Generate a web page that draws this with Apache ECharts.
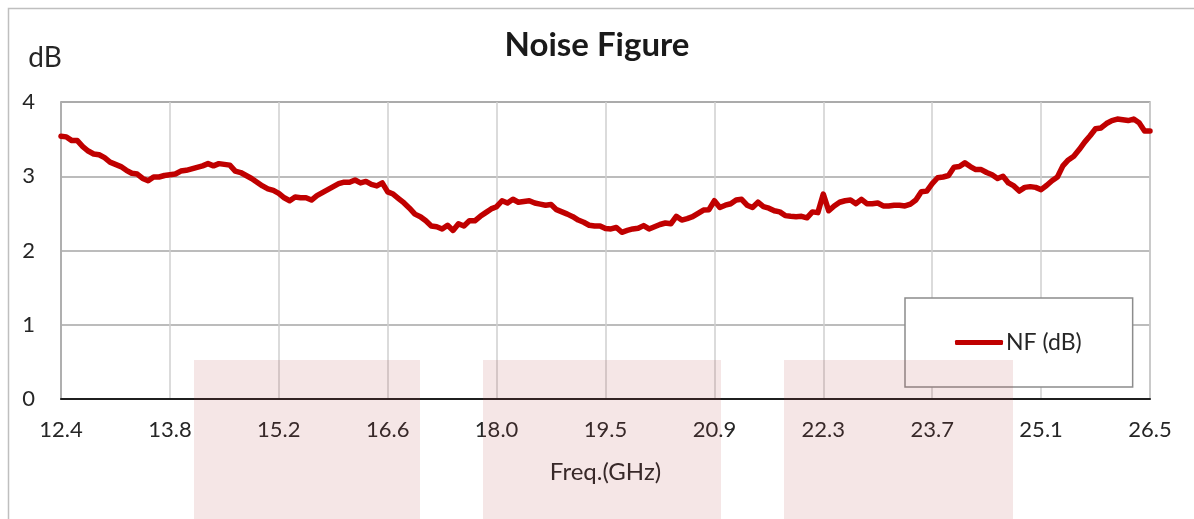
<!DOCTYPE html>
<html>
<head>
<meta charset="utf-8">
<script src="https://cdn.jsdelivr.net/npm/echarts@6/dist/echarts.min.js"></script>
<style>
  html, body { margin: 0; padding: 0; background: #ffffff; }
  #chart { width: 1194px; height: 519px; }
</style>
</head>
<body>
<div id="chart"></div>
<script>
// ---- Data ----
const freqStart = 12.4;   // GHz
const freqStop = 26.5;    // GHz
const pointCount = 201;
const xTickLabels = ['12.4', '13.8', '15.2', '16.6', '18.0', '19.5', '20.9', '22.3', '23.7', '25.1', '26.5'];
const yTickValues = [0, 1, 2, 3, 4];
const seriesName = 'NF (dB)';
const nfValues = [
  3.54, 3.53, 3.48, 3.48, 3.40, 3.34, 3.30, 3.29, 3.25, 3.19,
  3.16, 3.13, 3.08, 3.04, 3.03, 2.97, 2.94, 2.99, 2.99, 3.01,
  3.02, 3.03, 3.07, 3.08, 3.10, 3.12, 3.14, 3.17, 3.14, 3.17,
  3.16, 3.15, 3.07, 3.05, 3.01, 2.97, 2.92, 2.87, 2.83, 2.81,
  2.77, 2.71, 2.67, 2.72, 2.71, 2.71, 2.68, 2.74, 2.78, 2.82,
  2.86, 2.90, 2.92, 2.92, 2.95, 2.91, 2.93, 2.89, 2.87, 2.91,
  2.79, 2.76, 2.70, 2.64, 2.57, 2.49, 2.455, 2.40, 2.33, 2.32,
  2.29, 2.34, 2.27, 2.36, 2.33, 2.40, 2.40, 2.46, 2.51, 2.56,
  2.59, 2.67, 2.64, 2.69, 2.65, 2.66, 2.67, 2.64, 2.625, 2.61,
  2.62, 2.55, 2.52, 2.49, 2.455, 2.41, 2.38, 2.34, 2.33, 2.33,
  2.295, 2.29, 2.31, 2.245, 2.27, 2.29, 2.30, 2.335, 2.29, 2.32,
  2.35, 2.37, 2.36, 2.46, 2.41, 2.43, 2.455, 2.50, 2.545, 2.55,
  2.67, 2.58, 2.61, 2.63, 2.68, 2.69, 2.61, 2.58, 2.65, 2.59,
  2.57, 2.535, 2.52, 2.47, 2.46, 2.455, 2.46, 2.44, 2.52, 2.51,
  2.76, 2.535, 2.60, 2.65, 2.67, 2.68, 2.63, 2.69, 2.63, 2.63,
  2.64, 2.60, 2.60, 2.61, 2.61, 2.60, 2.625, 2.68, 2.79, 2.80,
  2.90, 2.98, 2.99, 3.01, 3.12, 3.13, 3.18, 3.13, 3.09, 3.09,
  3.05, 3.02, 2.97, 3.00, 2.91, 2.87, 2.80, 2.85, 2.86, 2.85,
  2.82, 2.875, 2.94, 2.99, 3.14, 3.22, 3.27, 3.36, 3.46, 3.545,
  3.64, 3.65, 3.71, 3.75, 3.77, 3.76, 3.75, 3.77, 3.72, 3.61,
  3.61
];
const freqCategories = [];
for (let i = 0; i < pointCount; i++) {
  freqCategories.push((freqStart + i * (freqStop - freqStart) / (pointCount - 1)).toFixed(3));
}
const labelEvery = (pointCount - 1) / (xTickLabels.length - 1);

// ---- Chart ----
const FONT = 'Lato, "Open Sans", sans-serif';
const chart = echarts.init(document.getElementById('chart'), null, { renderer: 'canvas' });
const pink = 'rgba(180, 60, 60, 0.13)';

chart.setOption({
  backgroundColor: '#ffffff',
  animation: false,
  title: {
    text: 'Noise Figure',
    left: 'center',
    top: 29,
    padding: [0, 0, 0, 22],
    textStyle: { fontFamily: FONT, fontSize: 33, fontWeight: 'bold', color: '#1a1a1a' }
  },
  grid: {
    left: 61, right: 44, top: 102, bottom: 120,
    show: true, borderColor: '#a6a6a6', borderWidth: 1.5, backgroundColor: 'transparent'
  },
  legend: {
    show: true,
    left: 905, top: 298,
    orient: 'horizontal',
    padding: [33, 51, 33, 50],
    backgroundColor: '#ffffff',
    borderColor: '#8c8c8c',
    borderWidth: 1.5,
    icon: 'roundRect',
    itemWidth: 48,
    itemHeight: 5,
    itemGap: 4,
    textStyle: { fontFamily: FONT, fontSize: 23, color: '#262626', padding: [0, 0, 0, -2] },
    data: [seriesName]
  },
  xAxis: {
    type: 'category',
    data: freqCategories,
    boundaryGap: false,
    name: 'Freq.(GHz)',
    nameLocation: 'middle',
    nameGap: 61,
    nameTextStyle: { fontFamily: FONT, fontSize: 24, color: '#262626' },
    axisLine: { show: true, lineStyle: { color: '#1f1f1f', width: 2 } },
    axisTick: { show: false },
    axisLabel: {
      interval: labelEvery - 1,
      margin: 20,
      fontFamily: FONT, fontSize: 22, color: '#262626',
      formatter: function (v, idx) { return xTickLabels[Math.round(idx / labelEvery)]; }
    },
    splitLine: { show: true, interval: labelEvery - 1, lineStyle: { color: '#cfcfcf', width: 1.5 } }
  },
  yAxis: {
    type: 'value',
    min: yTickValues[0],
    max: yTickValues[yTickValues.length - 1],
    interval: 1,
    name: 'dB',
    nameLocation: 'end',
    nameGap: 30,
    nameTextStyle: { fontFamily: FONT, fontSize: 28, color: '#262626', align: 'center', padding: [0, 0, 0, -32] },
    axisLine: { show: true, lineStyle: { color: '#a6a6a6', width: 1.5 } },
    axisTick: { show: false },
    axisLabel: { margin: 26, fontFamily: FONT, fontSize: 22, color: '#262626' },
    splitLine: { show: true, lineStyle: { color: '#a6a6a6', width: 1.5 } }
  },
  series: [{
    name: seriesName,
    type: 'line',
    data: nfValues,
    symbol: 'none',
    smooth: false,
    lineStyle: { color: '#c00000', width: 5.5, cap: 'round', join: 'round' },
    itemStyle: { color: '#c00000' },
    z: 3
  }],
  graphic: [
    { type: 'rect', left: 6, top: 6, z: -10, silent: true,
      shape: { width: 1200, height: 512 },
      style: { fill: 'none', stroke: '#bfbfbf', lineWidth: 1.5 } },
    { type: 'rect', left: 194, top: 360, zlevel: 1, silent: true,
      shape: { width: 226, height: 160 }, style: { fill: pink } },
    { type: 'rect', left: 483, top: 360, zlevel: 1, silent: true,
      shape: { width: 238, height: 160 }, style: { fill: pink } },
    { type: 'rect', left: 784, top: 360, zlevel: 1, silent: true,
      shape: { width: 229, height: 160 }, style: { fill: pink } }
  ]
});
</script>
</body>
</html>
